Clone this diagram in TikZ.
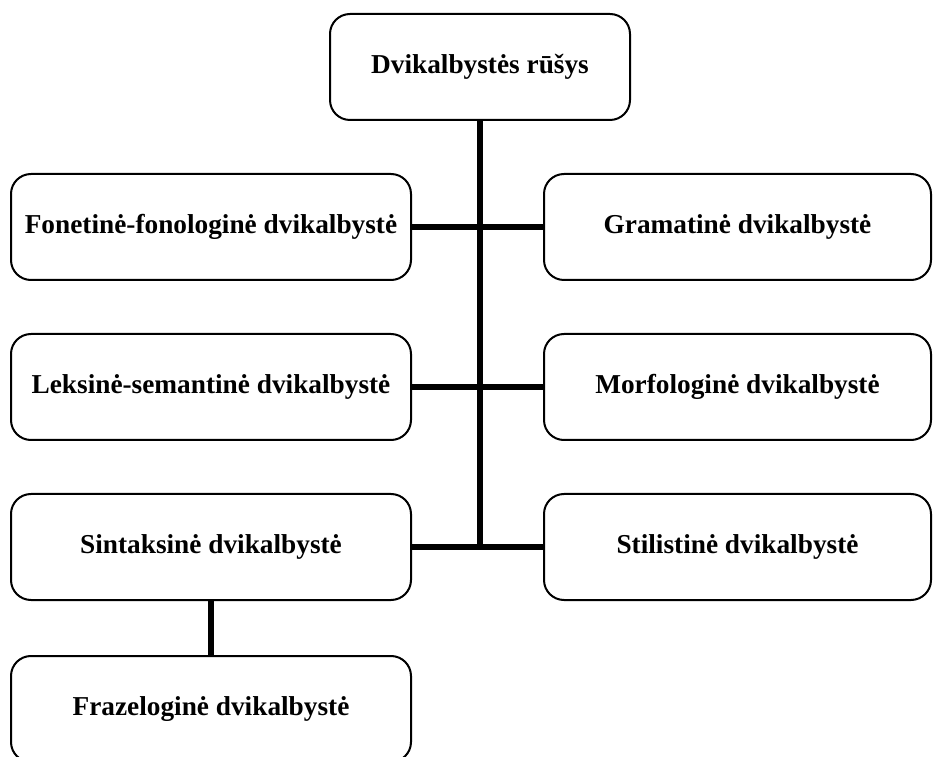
\documentclass[tikz,border=0pt]{standalone}
\usepackage{fontspec}
\setmainfont{Liberation Serif}
\usetikzlibrary{positioning}

\newcommand*{\colw}{400}
\newcommand*{\boxh}{106}

\begin{document}
\begin{tikzpicture}
[
	x=1pt,
	y=1pt,
	kind/.style={draw,rounded corners=20pt,line width=2pt,inner sep=0pt,
		minimum height=\boxh pt,font=\fontsize{27.3}{32}\selectfont\bfseries},
	leftkind/.style={kind,minimum width=\colw pt},
	rightkind/.style={kind,minimum width=387pt},
	link/.style={line width=6pt}
]

	\useasboundingbox (0,0) rectangle (935,756);

	% boxes
	\node[kind,minimum width=300pt] (rusys) at (480,689) {Dvikalbystės rūšys};
	\node[leftkind] (fonet) at (211,529) {Fonetinė-fonologinė dvikalbystė};
	\node[leftkind] (leks) at (211,369) {Leksinė-semantinė dvikalbystė};
	\node[leftkind] (sint) at (211,209) {Sintaksinė dvikalbystė};
	\node[leftkind,below=54pt of sint] (fraz) {Frazeloginė dvikalbystė};
	\node[rightkind] (gram) at (737.5,529) {Gramatinė dvikalbystė};
	\node[rightkind] (morf) at (737.5,369) {Morfologinė dvikalbystė};
	\node[rightkind] (stil) at (737.5,209) {Stilistinė dvikalbystė};

	% trunk
	\coordinate (foot) at (rusys.south |- sint.east);
	\draw[link] (rusys.south) -- (foot);

	% branches
	\draw[link] (fonet.east) -- (gram.west);
	\draw[link] (leks.east) -- (morf.west);
	\draw[link] (sint.east) -- (stil.west);
	\draw[link] (sint.south) -- (fraz.north);

\end{tikzpicture}
\end{document}
